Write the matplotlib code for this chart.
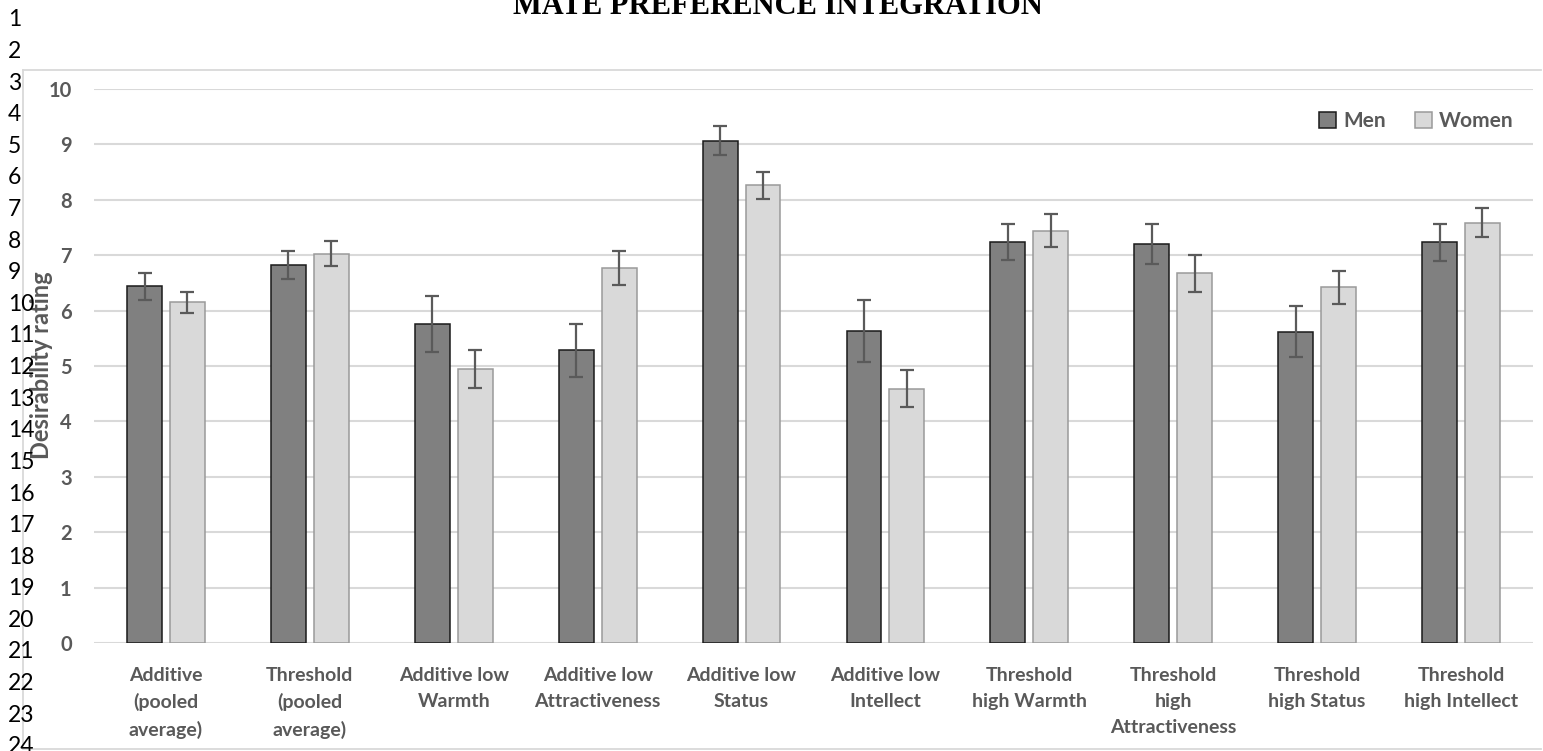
import matplotlib
matplotlib.use("Agg")
import matplotlib.pyplot as plt
import numpy as np
from matplotlib import font_manager
from matplotlib.patches import Patch
from matplotlib.lines import Line2D

W, H = 1543, 751
DPI = 100

categories = [
    "Additive\n(pooled\naverage)",
    "Threshold\n(pooled\naverage)",
    "Additive low\nWarmth",
    "Additive low\nAttractiveness",
    "Additive low\nStatus",
    "Additive low\nIntellect",
    "Threshold\nhigh Warmth",
    "Threshold\nhigh\nAttractiveness",
    "Threshold\nhigh Status",
    "Threshold\nhigh Intellect",
]
men = [6.44, 6.82, 5.76, 5.28, 9.07, 5.63, 7.24, 7.20, 5.62, 7.23]
men_err = [0.24, 0.25, 0.50, 0.47, 0.27, 0.56, 0.33, 0.36, 0.46, 0.34]
women = [6.15, 7.03, 4.95, 6.77, 8.26, 4.59, 7.44, 6.67, 6.42, 7.59]
women_err = [0.19, 0.23, 0.34, 0.31, 0.25, 0.33, 0.30, 0.33, 0.30, 0.27]
yticks = list(range(0, 11))

TXT = "#595959"
GRID = "#d9d9d9"
MEN_C = "#808080"
WOMEN_C = "#d9d9d9"

# narrow face for the category labels if there is one, Lato otherwise
names = {f.name for f in font_manager.fontManager.ttflist}
LBL_FONT = "Liberation Sans Narrow" if "Liberation Sans Narrow" in names else "Lato"
LBL_SIZE = 15.5 if LBL_FONT != "Lato" else 14

fig = plt.figure(figsize=(W / DPI, H / DPI), dpi=DPI)
fig.patch.set_facecolor("white")


def fx(px):
    return px / W


def fy(py):
    return 1 - py / H


# chart frame
fig.add_artist(Line2D([fx(23), fx(1541)], [fy(70), fy(70)], color=GRID, lw=1.3))
fig.add_artist(Line2D([fx(23), fx(23)], [fy(70), fy(749)], color=GRID, lw=1.3))
fig.add_artist(Line2D([fx(23), fx(1541)], [fy(749), fy(749)], color=GRID, lw=1.3))

ax = fig.add_axes([fx(94), fy(643), fx(1533) - fx(94), fy(89) - fy(643)])
x = np.arange(len(categories))
bw = 0.243
off = 0.149
ax.bar(x - off, men, bw, color=MEN_C, edgecolor="#1a1a1a", lw=1.1, zorder=3, label="Men")
ax.bar(x + off, women, bw, color=WOMEN_C, edgecolor="#9a9a9a", lw=1.1, zorder=3, label="Women")
ekw = dict(fmt="none", ecolor="#5a5a5a", elinewidth=1.6, capsize=4.8, capthick=1.6, zorder=4)
ax.errorbar(x - off, men, yerr=men_err, **ekw)
ax.errorbar(x + off, women, yerr=women_err, **ekw)

ax.set_xlim(-0.5, len(categories) - 0.5)
ax.set_ylim(0, 10)
ax.set_yticks(yticks)
ax.yaxis.grid(True, color=GRID, lw=1.5, zorder=0)
ax.set_axisbelow(True)
for s in ax.spines.values():
    s.set_visible(False)
ax.tick_params(length=0)
ax.set_yticklabels([str(t) for t in yticks], fontsize=14.5, fontweight="bold",
                   color=TXT, family="Lato")
ax.tick_params(axis="y", pad=16)
ax.set_xticks(x)
ax.set_xticklabels(categories, fontsize=LBL_SIZE, fontweight="bold", color=TXT,
                   family=LBL_FONT, linespacing=1.65)
ax.tick_params(axis="x", pad=17)

handles = [Patch(fc=MEN_C, ec="#1a1a1a", lw=1.1), Patch(fc=WOMEN_C, ec="#9a9a9a", lw=1.1)]
leg = fig.legend(handles, ["Men", "Women"], loc="center right",
                 bbox_to_anchor=(fx(1524), fy(121)), ncol=2, frameon=False,
                 borderpad=0, handlelength=0.8, handleheight=0.8,
                 handletextpad=0.35, columnspacing=1.4,
                 prop=dict(family="Lato", weight="bold", size=15))
for t in leg.get_texts():
    t.set_color(TXT)

fig.text(fx(42), fy(365), "Desirability rating", rotation=90, ha="center", va="center",
         fontsize=17, fontweight="bold", color=TXT, family="Lato")

# document line numbers
for n in range(1, 25):
    fig.text(fx(8), fy(20 + (n - 1) * 31.6), str(n), ha="left", va="center",
             fontsize=16.5, color="black", family="Lato")

fig.text(fx(778), fy(14), "MATE PREFERENCE INTEGRATION", ha="center", va="baseline",
         fontsize=22, fontweight="bold", color="black", family="Liberation Serif")

fig.savefig("out.png", dpi=DPI, facecolor="white")
